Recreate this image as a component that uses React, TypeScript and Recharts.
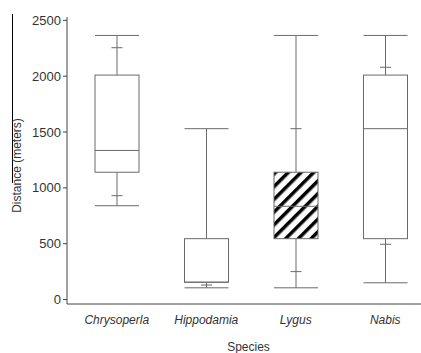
import { ComposedChart, Bar, XAxis, YAxis } from 'recharts'

// values (meters)
const species = ['Chrysoperla', 'Hippodamia', 'Lygus', 'Nabis']
const whiskerMin = [840, 105, 105, 150]
const lowerTick = [930, 130, 250, 495]
const q1 = [1140, 155, 545, 545]
const median = [1335, 155, 835, 1530]
const q3 = [2010, 545, 1140, 2010]
const upperTick: (number | null)[] = [2255, null, 1530, 2080]
const whiskerMax = [2365, 1530, 2365, 2365]
const hatched = [false, false, true, false]
const yTicks = [0, 500, 1000, 1500, 2000, 2500]

const data = species.map((name, i) => ({
  name,
  min: whiskerMin[i],
  lo: lowerTick[i],
  q1: q1[i],
  med: median[i],
  q3: q3[i],
  hi: upperTick[i],
  max: whiskerMax[i],
  hatched: hatched[i],
}))

const LINE = '#6a6a6a'
const FONT = '"Liberation Sans", Arial, sans-serif'

const BoxShape = (props: any) => {
  const { x, y, width, height, payload } = props
  const top = Math.min(y, y + height)
  const h = Math.abs(height)
  const k = h / (payload.max - payload.min)
  const py = (v: number) => top + (payload.max - v) * k
  const cx = x + width / 2
  const tw = 5.5
  return (
    <g>
      <line x1={cx} x2={cx} y1={py(payload.max)} y2={py(payload.q3)} stroke={LINE} />
      <line x1={cx} x2={cx} y1={py(payload.q1)} y2={py(payload.min)} stroke={LINE} />
      <line x1={x} x2={x + width} y1={py(payload.max)} y2={py(payload.max)} stroke={LINE} />
      <line x1={x} x2={x + width} y1={py(payload.min)} y2={py(payload.min)} stroke={LINE} />
      {payload.hi != null && (
        <line x1={cx - tw} x2={cx + tw} y1={py(payload.hi)} y2={py(payload.hi)} stroke={LINE} />
      )}
      <line x1={cx - tw} x2={cx + tw} y1={py(payload.lo)} y2={py(payload.lo)} stroke={LINE} />
      <rect
        x={x}
        y={py(payload.q3)}
        width={width}
        height={py(payload.q1) - py(payload.q3)}
        fill={payload.hatched ? 'url(#hatch)' : '#fff'}
        stroke={LINE}
      />
      <line x1={x} x2={x + width} y1={py(payload.med)} y2={py(payload.med)} stroke={LINE} />
    </g>
  )
}

const YLabel = (props: any) => {
  const vb = props.viewBox || { x: 0, y: 17, width: 67, height: 287 }
  const lx = vb.x + 17
  const ly = vb.y + vb.height / 2 + 5
  return (
    <text
      x={lx}
      y={ly}
      transform={`rotate(-90 ${lx} ${ly})`}
      textAnchor="middle"
      dominantBaseline="central"
      fontSize={12}
      fill="#333"
      fontFamily={FONT}
    >
      Distance (meters)
    </text>
  )
}

export default function App() {
  return (
    <div style={{ position: 'absolute', left: 0, top: 0, width: 421, height: 353, overflow: 'hidden', background: '#fff' }}>
      <div style={{ position: 'absolute', left: 12, top: 14, width: 1, height: 169, background: '#000' }} />
      <ComposedChart
        width={440}
        height={353}
        data={data}
        margin={{ top: 17, right: 10, bottom: 0, left: 0 }}
        style={{ fontFamily: FONT }}
      >
        <defs>
          <pattern id="hatch" patternUnits="userSpaceOnUse" width={9} height={9} patternTransform="rotate(45)">
            <rect x={0} y={0} width={9} height={9} fill="#fff" />
            <rect x={0} y={0} width={3.5} height={9} fill="#000" />
          </pattern>
        </defs>
        <XAxis
          dataKey="name"
          height={49}
          padding={{ left: 5, right: 0 }}
          tickLine={false}
          axisLine={{ stroke: '#444' }}
          tickSize={6}
          tickMargin={5}
          tick={{ fontSize: 12, fill: '#333', fontStyle: 'italic' }}
          label={{ value: 'Species', position: 'insideBottom', offset: 2, fontSize: 12, fill: '#333' }}
        />
        <YAxis
          type="number"
          domain={[-40, 2530]}
          ticks={yTicks}
          width={67}
          tickSize={4}
          tickMargin={2}
          axisLine={{ stroke: '#444' }}
          tickLine={{ stroke: '#444' }}
          tick={{ fontSize: 13, fill: '#333' }}
          label={<YLabel />}
        />
        <Bar
          dataKey={(d: any) => [d.min, d.max]}
          barSize={44}
          shape={<BoxShape />}
          isAnimationActive={false}
        />
      </ComposedChart>
    </div>
  )
}
